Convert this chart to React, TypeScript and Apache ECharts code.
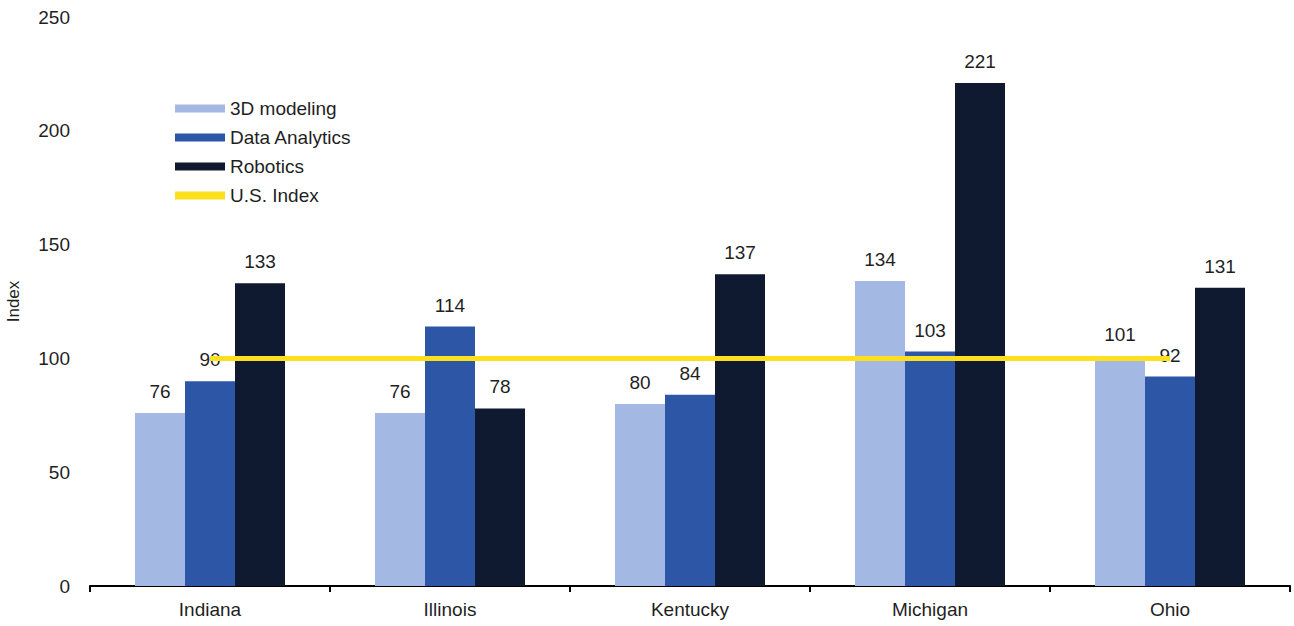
import React, { useEffect, useRef } from "react";
import * as echarts from "echarts";

const categories = ["Indiana", "Illinois", "Kentucky", "Michigan", "Ohio"];
const modeling3D = [76, 76, 80, 134, 101];
const dataAnalytics = [90, 114, 84, 103, 92];
const robotics = [133, 78, 137, 221, 131];
const usIndex = [100, 100, 100, 100, 100];
const yTicks = { min: 0, max: 250, interval: 50 };

const FONT = "Liberation Sans, Arial, sans-serif";
const TXT = "#1f1f1f";
const FS = 19;

export default function App() {
  const ref = useRef<HTMLDivElement>(null);
  useEffect(() => {
    if (!ref.current) return;
    const chart = echarts.init(ref.current, undefined, { renderer: "svg" });
    const barLabel = {
      show: true,
      position: "top",
      distance: 12,
      color: TXT,
      fontSize: FS,
      fontFamily: FONT,
    };
    chart.setOption({
      animation: false,
      textStyle: { fontFamily: FONT, color: TXT },
      grid: { left: 90, right: 4, top: 17, bottom: 40, containLabel: false, outerBoundsMode: "none" },
      legend: {
        orient: "vertical",
        left: 175,
        top: 99,
        padding: 0,
        itemWidth: 50,
        itemHeight: 8,
        itemGap: 10,
        textStyle: { fontSize: FS, fontFamily: FONT, color: TXT, lineHeight: 18 },
        data: [
          { name: "3D modeling", icon: "rect" },
          { name: "Data Analytics", icon: "rect" },
          { name: "Robotics", icon: "rect" },
          { name: "U.S. Index", icon: "rect" },
        ],
      },
      xAxis: {
        type: "category",
        data: categories,
        axisLine: { lineStyle: { color: "#000", width: 2 } },
        axisTick: { show: true, length: 6, lineStyle: { color: "#000", width: 2 } },
        axisLabel: { margin: 14, fontSize: FS, fontFamily: FONT, color: TXT },
      },
      yAxis: {
        type: "value",
        min: yTicks.min,
        max: yTicks.max,
        interval: yTicks.interval,
        name: "Index",
        nameLocation: "middle",
        nameGap: 68,
        nameTextStyle: { fontSize: 17, fontFamily: FONT, color: TXT },
        axisLine: { show: false },
        axisTick: { show: false },
        splitLine: { show: false },
        axisLabel: { margin: 20, fontSize: FS, fontFamily: FONT, color: TXT },
      },
      series: [
        {
          name: "3D modeling",
          type: "bar",
          data: modeling3D,
          barWidth: 50,
          barGap: "0%",
          itemStyle: { color: "#A3B9E3" },
          label: barLabel,
        },
        {
          name: "Data Analytics",
          type: "bar",
          data: dataAnalytics,
          barWidth: 50,
          barGap: "0%",
          itemStyle: { color: "#2D57A6" },
          label: barLabel,
        },
        {
          name: "Robotics",
          type: "bar",
          data: robotics,
          barWidth: 50,
          barGap: "0%",
          itemStyle: { color: "#0F1A30" },
          label: barLabel,
        },
        {
          name: "U.S. Index",
          type: "line",
          data: usIndex,
          z: 5,
          symbol: "none",
          showSymbol: false,
          lineStyle: { color: "#FDDF1E", width: 5 },
          itemStyle: { color: "#FDDF1E" },
        },
      ],
    });
    return () => chart.dispose();
  }, []);
  return <div ref={ref} style={{ width: 1294, height: 626, position: "absolute", left: 0, top: 0 }} />;
}
